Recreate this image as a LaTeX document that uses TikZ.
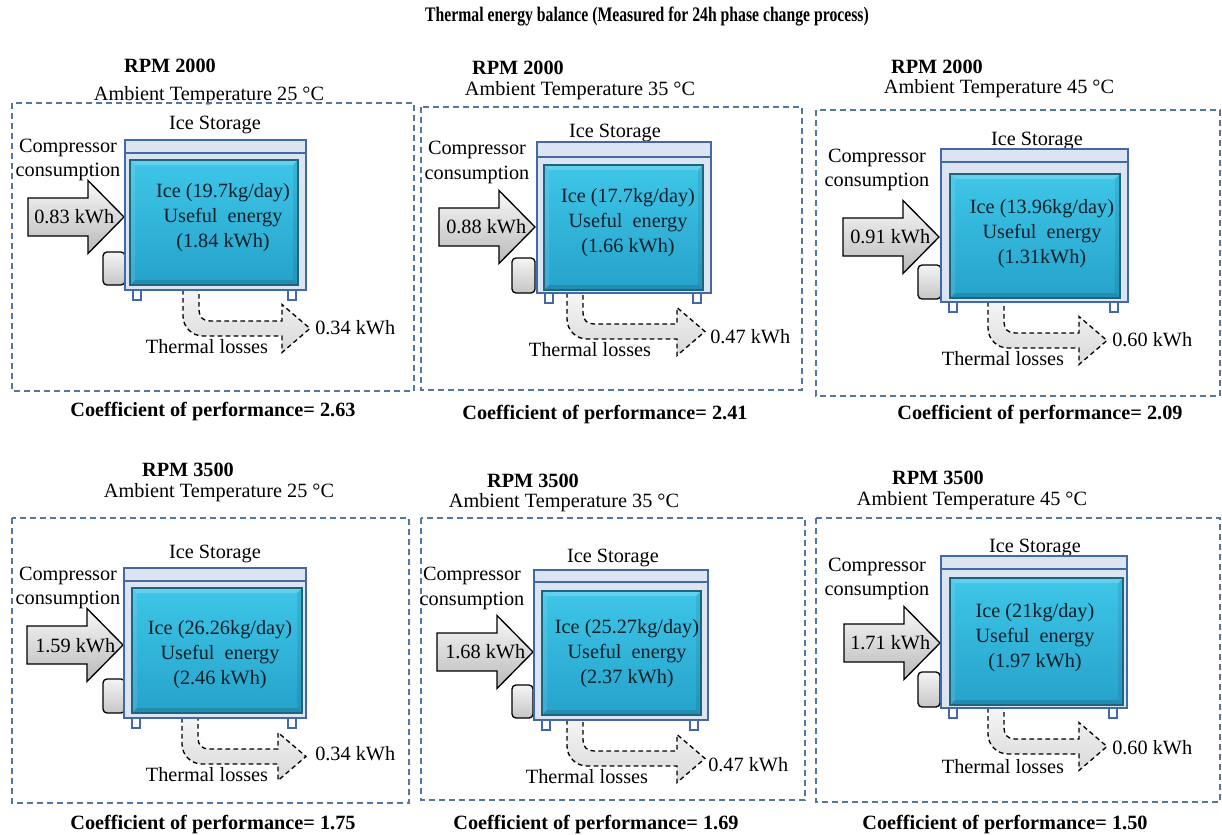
\documentclass[tikz,border=0pt]{standalone}
\usepackage{fontspec}
\setmainfont{Liberation Serif}
\usetikzlibrary{calc}

\definecolor{panelblue}{RGB}{84,118,165}
\definecolor{boxedge}{RGB}{66,104,165}
\definecolor{boxfill}{RGB}{220,228,242}
\definecolor{icetop}{RGB}{62,198,232}
\definecolor{icebot}{RGB}{38,162,202}
\definecolor{iceedge}{RGB}{30,100,124}
\definecolor{icetext}{RGB}{12,30,40}

\tikzset{
  panel/.style={draw=panelblue, line width=1.1pt, dash pattern=on 4.5pt off 3pt},
  lbl/.style={font=\fontsize{15.2}{18.5}\selectfont, inner sep=0pt},
  head/.style={font=\bfseries\fontsize{15.2}{18.5}\selectfont, inner sep=0pt},
  title/.style={font=\bfseries\fontsize{15.5}{18}\selectfont, inner sep=0pt},
  icelbl/.style={font=\fontsize{15.2}{18.75}\selectfont, inner sep=0pt, align=center, text=icetext},
  storage/.style={draw=boxedge, fill=boxfill, line width=1.8pt},
  stripline/.style={draw=boxedge, line width=1.2pt},
  leg/.style={draw=boxedge, fill=white, line width=1.2pt},
  ice/.style={draw=iceedge, line width=0.8pt, top color=icetop, bottom color=icebot},
  unit/.style={draw=black, line width=1pt, rounded corners=3pt, top color=gray!8, bottom color=gray!45},
  feedarrow/.style={draw=black, line width=1pt, top color=gray!5, bottom color=gray!55},
  lossarrow/.style={draw=black, line width=1pt, dash pattern=on 3.5pt off 2.5pt, top color=gray!8, bottom color=gray!30},
  pics/feed/.style={code={
    \draw[feedarrow] (-96,-19) -- (-36,-19) -- (-36,-36.5) -- (0,0) -- (-36,36.5)
      -- (-36,19) -- (-96,19) -- cycle;
  }},
  pics/loss/.style={code={
    \draw[lossarrow] (0,0) -- (0,26) .. controls (0,37) and (9,46) .. (20,46)
      -- ({#1-28},46) -- ({#1-28},62.5) -- (#1,38.5) -- ({#1-28},14.5) -- ({#1-28},31)
      -- (27,31) .. controls (20,31) and (16,27) .. (16,20) -- (16,0) -- cycle;
  }},
}

% storage cabinet: legs, outer casing and lid line
\newcommand\IceBox[5]{%
  \draw[leg] ({#1+8},{#4-2}) rectangle ({#1+16},{#4+10});
  \draw[leg] ({#3-18},{#4-2}) rectangle ({#3-10},{#4+10});
  \draw[storage] (#1,#2) rectangle (#3,#4);
  \draw[stripline] (#1,#5) -- (#3,#5);
}
% bevelled block of ice
\newcommand\IceSlab[4]{%
  \fill[ice] (#1,#2) rectangle (#3,#4);
  \fill[white, opacity=0.2] (#1,#2) -- (#3,#2) -- ({#3-5},{#2+5}) -- ({#1+5},{#2+5}) -- cycle;
  \fill[white, opacity=0.1] (#1,#2) -- ({#1+5},{#2+5}) -- ({#1+5},{#4-5}) -- (#1,#4) -- cycle;
  \fill[black, opacity=0.13] (#1,#4) -- (#3,#4) -- ({#3-5},{#4-5}) -- ({#1+5},{#4-5}) -- cycle;
  \fill[black, opacity=0.08] (#3,#2) -- (#3,#4) -- ({#3-5},{#4-5}) -- ({#3-5},{#2+5}) -- cycle;
  \draw[draw=iceedge, line width=0.8pt] (#1,#2) rectangle (#3,#4);
}

\begin{document}
\begin{tikzpicture}[x=0.75pt,y=-0.75pt]
\useasboundingbox[fill=white] (0,0) rectangle (1222,835);

\node[title] (title) at (647,17) {\scalebox{0.76}[1]{Thermal energy balance (Measured for 24h phase change process)}};

% ---------- RPM 2000, 25 C ----------
\node[head] (p1rpm) at (170,66) {RPM 2000};
\node[lbl] (p1amb) at (209,96) {Ambient Temperature 25 °C};
\draw[panel] (12,103) rectangle (414,391);
\node[lbl] (p1store) at (215,125) {Ice Storage};
\node[lbl, align=center] (p1comp) at (68,160) {Compressor\\consumption};
\pic at (183,290) {loss=127};
\pic at (124,217) {feed};
\draw[unit] (103,252) rectangle (125,285);
\IceBox{125}{140}{306}{290}{153}
\IceSlab{130}{160}{298}{285}
\node[icelbl] (p1ice) at (223,218) {Ice (19.7kg/day)\\Useful\ \ energy\\(1.84 kWh)};
\node[lbl, anchor=west] (p1in) at (34,217) {0.83 kWh};
\node[lbl, anchor=west] (p1out) at (315,328) {0.34 kWh};
\node[lbl] (p1loss) at (207,347) {Thermal losses};
\node[head] (p1cop) at (213,412) {Coefficient of performance= 2.63};

% ---------- RPM 2000, 35 C ----------
\node[head] (p2rpm) at (518,68) {RPM 2000};
\node[lbl] (p2amb) at (580,91) {Ambient Temperature 35 °C};
\draw[panel] (421,107) rectangle (802,390);
\node[lbl] (p2store) at (615,133) {Ice Storage};
\node[lbl, align=center] (p2comp) at (477,162.5) {Compressor\\consumption};
\pic at (567,293) {loss=138};
\pic at (535,227) {feed};
\draw[unit] (512,258) rectangle (535,293);
\IceBox{537}{142}{711}{293}{157}
\IceSlab{544}{165}{703}{290}
\node[icelbl] (p2ice) at (628,222.5) {Ice (17.7kg/day)\\Useful\ \ energy\\(1.66 kWh)};
\node[lbl, anchor=west] (p2in) at (446,227) {0.88 kWh};
\node[lbl, anchor=west] (p2out) at (710,337) {0.47 kWh};
\node[lbl] (p2loss) at (590,350) {Thermal losses};
\node[head] (p2cop) at (605,415) {Coefficient of performance= 2.41};

% ---------- RPM 2000, 45 C ----------
\node[head] (p3rpm) at (937,67) {RPM 2000};
\node[lbl] (p3amb) at (999,89) {Ambient Temperature 45 °C};
\draw[panel] (816,110) rectangle (1220,396);
\node[lbl] (p3store) at (1037,141) {Ice Storage};
\node[lbl, align=center] (p3comp) at (877,170) {Compressor\\consumption};
\pic at (988,302) {loss=119};
\pic at (939,237) {feed};
\draw[unit] (918,265) rectangle (941,299);
\IceBox{941}{149}{1128}{302}{162}
\IceSlab{950}{174}{1120}{298}
\node[icelbl] (p3ice) at (1042,234) {Ice (13.96kg/day)\\Useful\ \ energy\\(1.31kWh)};
\node[lbl, anchor=west] (p3in) at (850,237) {0.91 kWh};
\node[lbl, anchor=west] (p3out) at (1112,340) {0.60 kWh};
\node[lbl] (p3loss) at (1003,359) {Thermal losses};
\node[head] (p3cop) at (1040,415) {Coefficient of performance= 2.09};

% ---------- RPM 3500, 25 C ----------
\node[head] (p4rpm) at (188,470) {RPM 3500};
\node[lbl] (p4amb) at (219,493) {Ambient Temperature 25 °C};
\draw[panel] (12,518) rectangle (409,803);
\node[lbl] (p4store) at (215,554) {Ice Storage};
\node[lbl, align=center] (p4comp) at (68,588) {Compressor\\consumption};
\pic at (182,718) {loss=124};
\pic at (123,645) {feed};
\draw[unit] (103,679) rectangle (125,713);
\IceBox{124}{568}{306}{718}{581}
\IceSlab{132}{588}{302}{713}
\node[icelbl] (p4ice) at (220,654.5) {Ice (26.26kg/day)\\Useful\ \ energy\\(2.46 kWh)};
\node[lbl, anchor=west] (p4in) at (35,646) {1.59 kWh};
\node[lbl, anchor=west] (p4out) at (315,754) {0.34 kWh};
\node[lbl] (p4loss) at (207,775) {Thermal losses};
\node[head] (p4cop) at (213,825) {Coefficient of performance= 1.75};

% ---------- RPM 3500, 35 C ----------
\node[head] (p5rpm) at (533,481) {RPM 3500};
\node[lbl] (p5amb) at (564,503) {Ambient Temperature 35 °C};
\draw[panel] (421,518) rectangle (805,800);
\node[lbl] (p5store) at (613,558) {Ice Storage};
\node[lbl, align=center] (p5comp) at (472,588.5) {Compressor\\consumption};
\pic at (567,720) {loss=138};
\pic at (533,652) {feed};
\draw[unit] (512,685) rectangle (533,718);
\IceBox{534}{570}{708}{720}{582}
\IceSlab{542}{591}{701}{715}
\node[icelbl] (p5ice) at (627,653.5) {Ice (25.27kg/day)\\Useful\ \ energy\\(2.37 kWh)};
\node[lbl, anchor=west] (p5in) at (445,652) {1.68 kWh};
\node[lbl, anchor=west] (p5out) at (708,765) {0.47 kWh};
\node[lbl] (p5loss) at (587,777) {Thermal losses};
\node[head] (p5cop) at (596,825) {Coefficient of performance= 1.69};

% ---------- RPM 3500, 45 C ----------
\node[head] (p6rpm) at (938,478) {RPM 3500};
\node[lbl] (p6amb) at (972,501) {Ambient Temperature 45 °C};
\draw[panel] (816,518) rectangle (1220,802);
\node[lbl] (p6store) at (1035,548) {Ice Storage};
\node[lbl, align=center] (p6comp) at (877,579) {Compressor\\consumption};
\pic at (988,708) {loss=119};
\pic at (940,643) {feed};
\draw[unit] (918,672) rectangle (940,707);
\IceBox{941}{556}{1127}{708}{569}
\IceSlab{950}{578}{1123}{705}
\node[icelbl] (p6ice) at (1035,638) {Ice (21kg/day)\\Useful\ \ energy\\(1.97 kWh)};
\node[lbl, anchor=west] (p6in) at (850,643) {1.71 kWh};
\node[lbl, anchor=west] (p6out) at (1112,748) {0.60 kWh};
\node[lbl] (p6loss) at (1003,767) {Thermal losses};
\node[head] (p6cop) at (1005,825) {Coefficient of performance= 1.50};

\end{tikzpicture}
\end{document}
